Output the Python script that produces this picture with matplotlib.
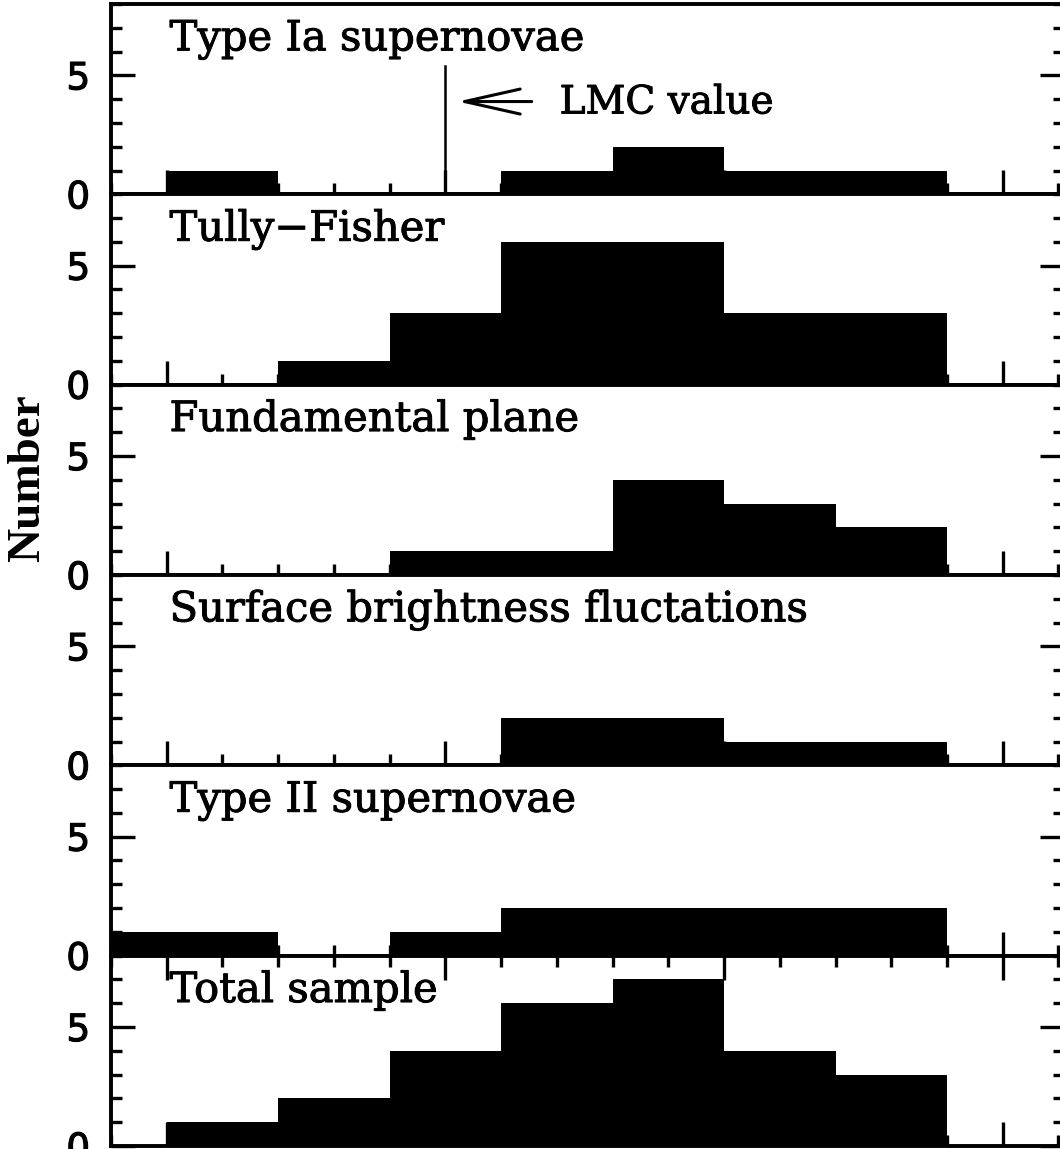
import numpy as np
import matplotlib
matplotlib.use("Agg")
import matplotlib.pyplot as plt
import matplotlib.patheffects as pe
from matplotlib.ticker import MultipleLocator, NullFormatter

# bin edges (distance modulus) and counts per method
edges = [17.8, 18.0, 18.2, 18.4, 18.6, 18.8, 19.0, 19.2, 19.4]
labels = ["Type Ia supernovae", "Tully\u2212Fisher", "Fundamental plane",
          "Surface brightness fluctations", "Type II supernovae", "Total sample"]
sn_ia = [0, 1, 0, 0, 1, 2, 1, 1]
tully_fisher = [0, 0, 1, 3, 6, 6, 3, 3]
fund_plane = [0, 0, 0, 1, 1, 4, 3, 2]
sbf = [0, 0, 0, 0, 2, 2, 1, 1]
sn_ii = [1, 1, 0, 1, 2, 2, 2, 2]
total = [0, 1, 2, 4, 6, 7, 4, 3]
counts = [sn_ia, tully_fisher, fund_plane, sbf, sn_ii, total]

lmc_value = 18.5
lmc_top = 5.4

# label widths in the original, px (used only to pick a font size)
label_widths = [388, 267, 418, 660, 409, 275]

W, H = 1060, 1149
fig = plt.figure(figsize=(W / 100, H / 100), dpi=100)
renderer = fig.canvas.get_renderer()

x0, x1 = 111, 1064      # axes left/right in px
top, ph = 4, 190.33     # first panel top, panel height in px
lw = 2.4
serif = "DejaVu Serif"
thick = [pe.withStroke(linewidth=0.7, foreground="black")]

axes = []
for i, (lab, c) in enumerate(zip(labels, counts)):
    bot = 1 - (top + (i + 1) * ph) / H
    ax = fig.add_axes([x0 / W, bot, (x1 - x0) / W, ph / H])
    ax.stairs(c, edges, fill=True, color="black", lw=0)
    ax.set_xlim(17.9, 19.61)
    ax.set_ylim(0, 8)
    ax.xaxis.set_major_locator(MultipleLocator(0.5))
    ax.xaxis.set_minor_locator(MultipleLocator(0.1))
    ax.xaxis.set_major_formatter(NullFormatter())
    ax.set_yticks([0, 5])
    ax.yaxis.set_minor_locator(MultipleLocator(1))
    # only the last (total) panel carries ticks on its top edge
    ax.tick_params(which="both", direction="in", top=(i == len(labels) - 1),
                   right=True, width=lw)
    ax.tick_params(which="major", length=17.5, pad=15, labelsize=27)
    ax.tick_params(which="minor", length=8)
    for lbl in ax.get_yticklabels():
        lbl.set_path_effects([pe.withStroke(linewidth=0.8, foreground="black")])
    for s in ax.spines.values():
        s.set_linewidth(lw + 0.4)
    axes.append(ax)

texts = [ax.text(18.005, 6.05, lab, family=serif, fontsize=24, path_effects=thick)
         for ax, lab in zip(axes, labels)]
got = sum(t.get_window_extent(renderer).width for t in texts)
size = 24 * sum(label_widths) / got
for t in texts:
    t.set_fontsize(size)

ax = axes[0]
ax.plot([lmc_value, lmc_value], [0, lmc_top], color="black", lw=1.8)
ax.annotate("", xy=(18.522, 3.9), xytext=(18.655, 3.9),
            arrowprops=dict(arrowstyle="->,head_length=2.0,head_width=0.45",
                            mutation_scale=20, lw=2.2, color="black",
                            shrinkA=0, shrinkB=0))
lmc_txt = ax.text(18.705, 3.4, "LMC value", family=serif, fontsize=26,
                  path_effects=thick)
lmc_txt.set_fontsize(26 * 214 / lmc_txt.get_window_extent(renderer).width)

fig.text(28 / W, 1 - 478 / H, "Number", rotation=90, ha="center", va="center",
         family="Liberation Serif", weight="bold", fontsize=34)

fig.savefig("out.png", dpi=100)
